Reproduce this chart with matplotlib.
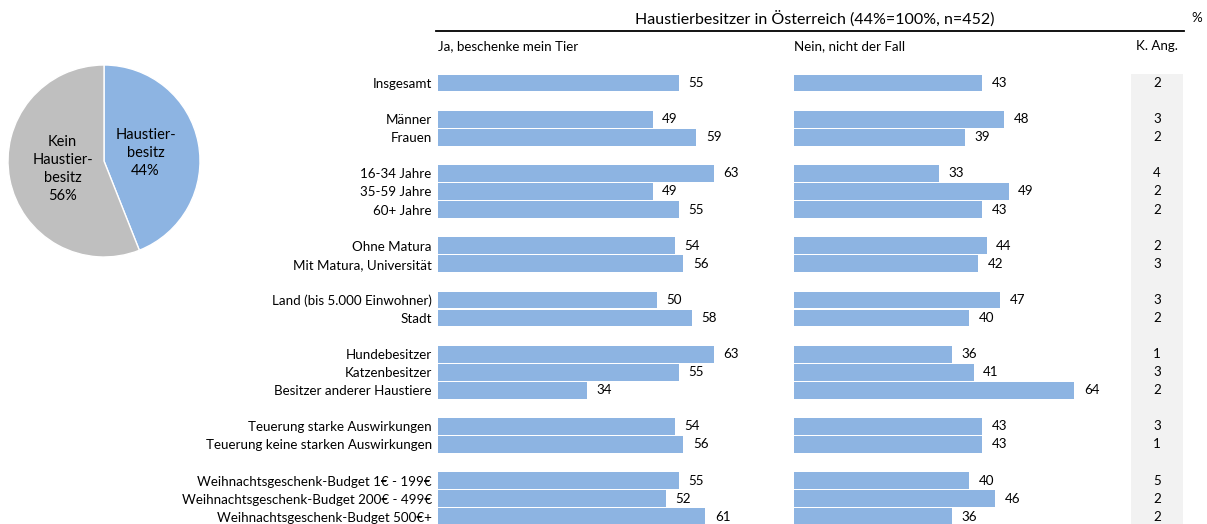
import matplotlib
matplotlib.use('Agg')
import matplotlib.pyplot as plt
from matplotlib.lines import Line2D
import numpy as np

plt.rcParams['font.family'] = ['Lato', 'DejaVu Sans']

# data
categories = ['Insgesamt',
              'Männer', 'Frauen',
              '16-34 Jahre', '35-59 Jahre', '60+ Jahre',
              'Ohne Matura', 'Mit Matura, Universität',
              'Land (bis 5.000 Einwohner)', 'Stadt',
              'Hundebesitzer', 'Katzenbesitzer', 'Besitzer anderer Haustiere',
              'Teuerung starke Auswirkungen', 'Teuerung keine starken Auswirkungen',
              'Weihnachtsgeschenk-Budget 1€ - 199€', 'Weihnachtsgeschenk-Budget 200€ - 499€',
              'Weihnachtsgeschenk-Budget 500€+']
group_sizes = [1, 2, 3, 2, 2, 3, 2, 3]
ja = [55, 49, 59, 63, 49, 55, 54, 56, 50, 58, 63, 55, 34, 54, 56, 55, 52, 61]
nein = [43, 48, 39, 33, 49, 43, 44, 42, 47, 40, 36, 41, 64, 43, 43, 40, 46, 36]
k_ang = [2, 3, 2, 4, 2, 2, 2, 3, 3, 2, 1, 3, 2, 3, 1, 5, 2, 2]
pie_labels = ['Haustier-\nbesitz\n44%', 'Kein\nHaustier-\nbesitz\n56%']
pie_values = [44, 56]

BLUE = '#8DB4E2'
GREY = '#BFBFBF'
FS = 9.6

W, H = 1207, 524
fig = plt.figure(figsize=(W / 100, H / 100), dpi=100)


def box(x0, y0, x1, y1):
    # pixel box -> figure fraction rect
    return [x0 / W, 1 - y1 / H, (x1 - x0) / W, (y1 - y0) / H]


# row positions: one empty slot between groups
pos = []
slot = 0
for g in group_sizes:
    for i in range(g):
        pos.append(slot)
        slot += 1
    slot += 1
pos = np.array(pos)

scale = 4.38  # px per percent
top_px, bot_px = 74, 524
ylim = (24.4, -0.5)

# left panel: Ja
axL = fig.add_axes(box(438, top_px, 438 + 70 * scale, bot_px))
axL.barh(pos, ja, height=0.93, color=BLUE)
axL.set_xlim(0, 70)
axL.set_ylim(*ylim)
axL.set_yticks(pos)
axL.set_yticklabels(categories, fontsize=FS)
axL.tick_params(axis='y', length=0, pad=4.5)
axL.set_xticks([])
for p, v in zip(pos, ja):
    axL.text(v + 2.2, p, str(v), va='center', ha='left', fontsize=FS)

# right panel: Nein
axR = fig.add_axes(box(794, top_px, 1130, bot_px))
axR.barh(pos, nein, height=0.93, color=BLUE)
axR.set_xlim(0, 336 / scale)
axR.set_ylim(*ylim)
axR.set_xticks([])
axR.set_yticks([])
for p, v in zip(pos, nein):
    axR.text(v + 2.2, p, str(v), va='center', ha='left', fontsize=FS, clip_on=False)

# K. Ang. column
axK = fig.add_axes(box(1131, top_px, 1183, bot_px))
axK.set_facecolor('#F2F2F2')
axK.set_xlim(0, 1)
axK.set_ylim(*ylim)
axK.set_xticks([])
axK.set_yticks([])
for p, v in zip(pos, k_ang):
    axK.text(0.5, p, str(v), va='center', ha='center', fontsize=FS)

for ax in (axL, axR, axK):
    for s in ax.spines.values():
        s.set_visible(False)
axL.patch.set_visible(False)
axR.patch.set_visible(False)

# headers
fig.text(815 / W, 1 - 19 / H, 'Haustierbesitzer in Österreich (44%=100%, n=452)',
         ha='center', va='center', fontsize=11.5)
fig.text(1197 / W, 1 - 18 / H, '%', ha='center', va='center', fontsize=FS)
fig.add_artist(Line2D([436 / W, 1184 / W], [1 - 31 / H, 1 - 31 / H], color='black', lw=1.3))
fig.text(438 / W, 1 - 46 / H, 'Ja, beschenke mein Tier', ha='left', va='center', fontsize=FS)
fig.text(794 / W, 1 - 46 / H, 'Nein, nicht der Fall', ha='left', va='center', fontsize=FS)
fig.text(1157 / W, 1 - 46 / H, 'K. Ang.', ha='center', va='center', fontsize=FS)

# pie
axP = fig.add_axes(box(8, 65, 200, 257))
axP.pie(pie_values, labels=pie_labels, colors=[BLUE, GREY], startangle=90,
        counterclock=False, labeldistance=0.44,
        wedgeprops=dict(edgecolor='white', linewidth=1),
        textprops=dict(ha='center', va='center', multialignment='center',
                       fontsize=10.5, linespacing=1.35))
axP.set_xlim(-1.0, 1.0)
axP.set_ylim(-1.0, 1.0)
axP.set_aspect('equal')

fig.savefig('out.png', dpi=100)
